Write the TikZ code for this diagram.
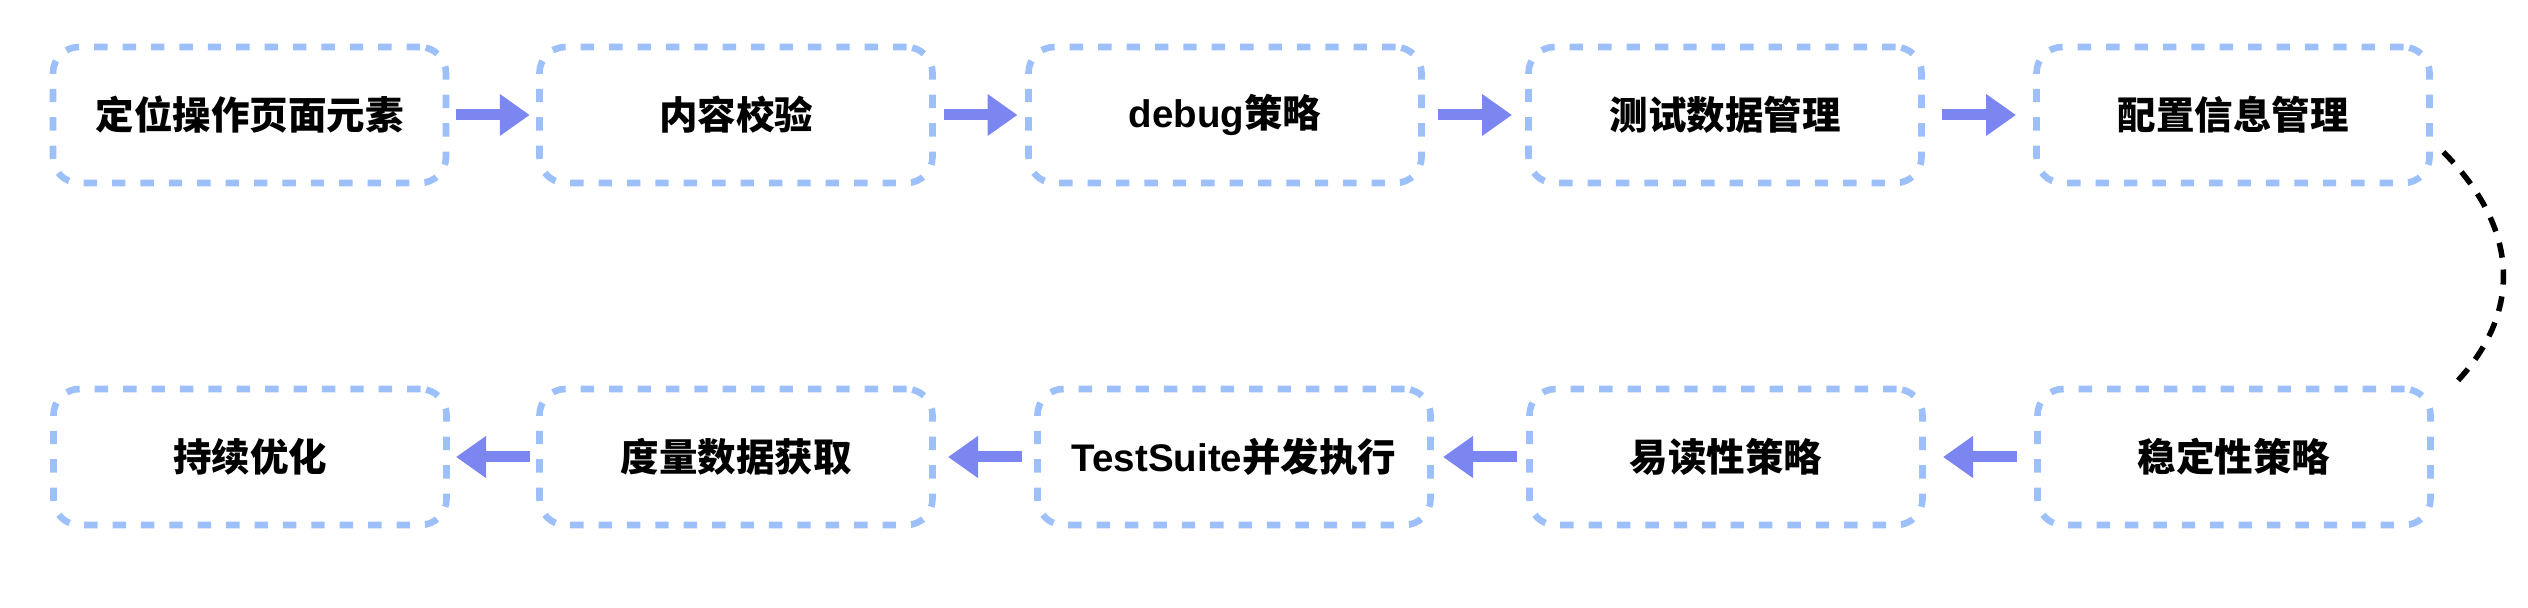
\documentclass[tikz,border=0pt]{standalone}
\usepackage{fontspec}
\setmainfont{Liberation Sans}
\newfontfamily\cjk{Noto Sans CJK SC}
\usetikzlibrary{arrows.meta,calc}
\definecolor{boxc}{RGB}{157,192,250}
\definecolor{arrc}{RGB}{123,134,240}
\tikzset{
  stepbox/.style={draw=boxc, line width=3.3pt, dash pattern=on 6.7pt off 7.5pt,
    rounded corners=13pt, minimum width=196.5pt, minimum height=68pt, inner sep=0pt,
    font=\bfseries\fontsize{19.25pt}{23pt}\selectfont, text=black},
  flowarr/.style={draw=arrc, line width=5.5pt, -{Triangle[length=15pt,width=20pt]}},
  loopline/.style={draw=black, line width=2.75pt, dash pattern=on 7.5pt off 6pt}
}
\begin{document}
\begin{tikzpicture}[x=0.5pt,y=-0.5pt]
\useasboundingbox (0,0) rectangle (2528,608);
% row 1
\node[stepbox] (b1) at (249.5,115) {\cjk 定位操作页面元素};
\node[stepbox] (b2) at (736,115) {\cjk 内容校验};
\node[stepbox] (b3) at (1225,115) {debug{\cjk 策略}};
\node[stepbox] (b4) at (1725,115) {\cjk 测试数据管理};
\node[stepbox] (b5) at (2233,115) {\cjk 配置信息管理};
% row 2
\node[stepbox] (c1) at (250,457) {\cjk 持续优化};
\node[stepbox] (c2) at (736,457) {\cjk 度量数据获取};
\node[stepbox] (c3) at (1234,457) {TestSuite{\cjk 并发执行}};
\node[stepbox] (c4) at (1726,457) {\cjk 易读性策略};
\node[stepbox] (c5) at (2234,457) {\cjk 稳定性策略};
% arrows row 1
\foreach \a/\b in {b1/b2,b2/b3,b3/b4,b4/b5}{
  \draw[flowarr] ($(\a.east)!0.5!(\b.west)+(-37,0)$) -- ($(\a.east)!0.5!(\b.west)+(37,0)$);
}
% arrows row 2 (pointing left)
\foreach \a/\b in {c5/c4,c4/c3,c3/c2,c2/c1}{
  \draw[flowarr] ($(\b.east)!0.5!(\a.west)+(37,0)$) -- ($(\b.east)!0.5!(\a.west)+(-37,0)$);
}
% loop connector
\coordinate (ls) at ([shift={(10.5,37)}]b5.east);
\coordinate (le) at ([shift={(17,-69)}]c5.east);
\draw[loopline] (ls) .. controls ([shift={(75,75)}]ls) and ([shift={(75,-75)}]le) .. (le);
\end{tikzpicture}
\end{document}
